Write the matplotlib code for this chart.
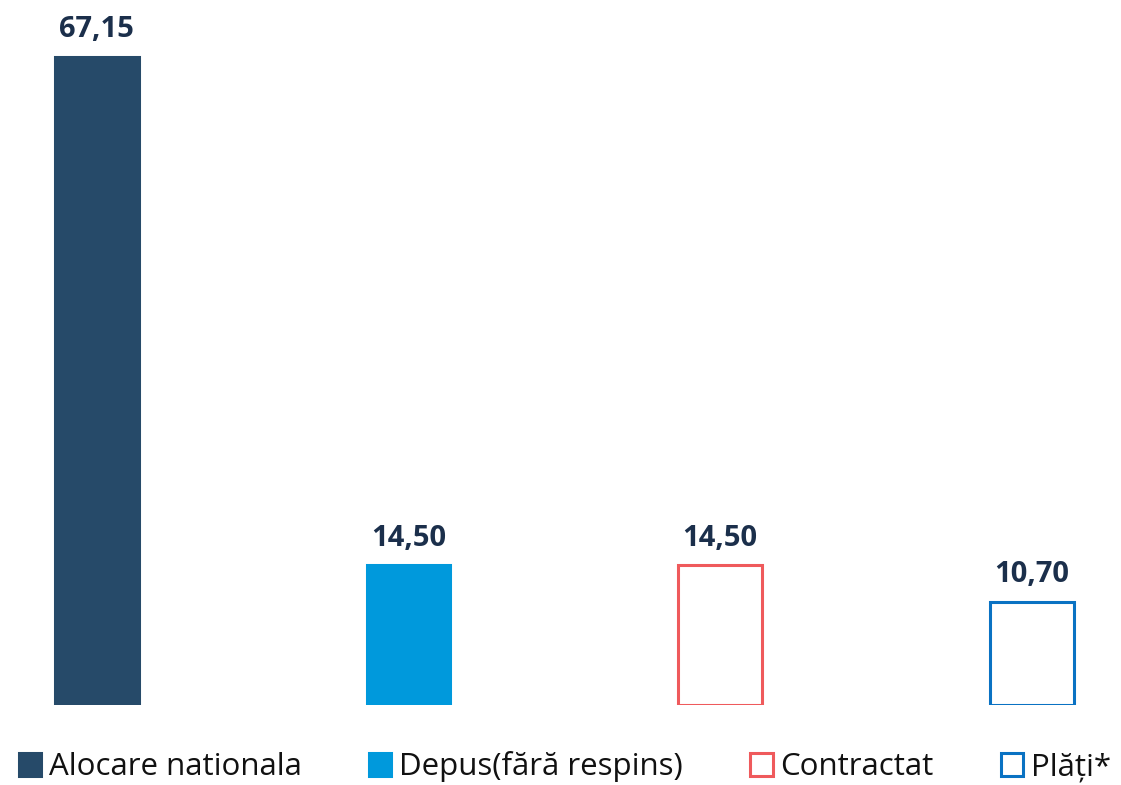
import matplotlib.pyplot as plt
from matplotlib.patches import Patch

plt.rcParams['font.family'] = ['Open Sans', 'DejaVu Sans']

categories = ['Alocare nationala', 'Depus(fără respins)', 'Contractat', 'Plăți*']
values = [67.15, 14.50, 14.50, 10.70]
value_labels = ['67,15', '14,50', '14,50', '10,70']
face_colors = ['#264a69', '#0099dc', 'white', 'white']
edge_colors = ['#264a69', '#0099dc', '#ef5a5c', '#0a72c3']

fig = plt.figure(figsize=(11.21, 7.85), dpi=100)
ax = fig.add_axes([0, 80 / 785, 1, 705 / 785])

x = range(len(values))
bars = ax.bar(x, values, width=0.268, color=face_colors,
              edgecolor=edge_colors, linewidth=2.2)
for xi, v, lab in zip(x, values, value_labels):
    ax.annotate(lab, (xi, v), xytext=(0, 9), textcoords='offset points',
                ha='center', va='bottom', fontsize=21, fontweight='bold',
                color='#1b2f4b')

ax.set_xlim(-0.311, 3.286)
ax.set_ylim(0, 73.05)
ax.axis('off')

handles = [Patch(facecolor=f, edgecolor=e, linewidth=2.2, label=c)
           for f, e, c in zip(face_colors, edge_colors, categories)]
fig.legend(handles=handles, loc='center', bbox_to_anchor=(0.504, 0.023),
           ncol=4, frameon=False, fontsize=22.5, handlelength=0.72,
           handleheight=0.72, handletextpad=0.25, columnspacing=2.15,
           labelcolor='#111111')

fig.savefig('out.png', dpi=100)
